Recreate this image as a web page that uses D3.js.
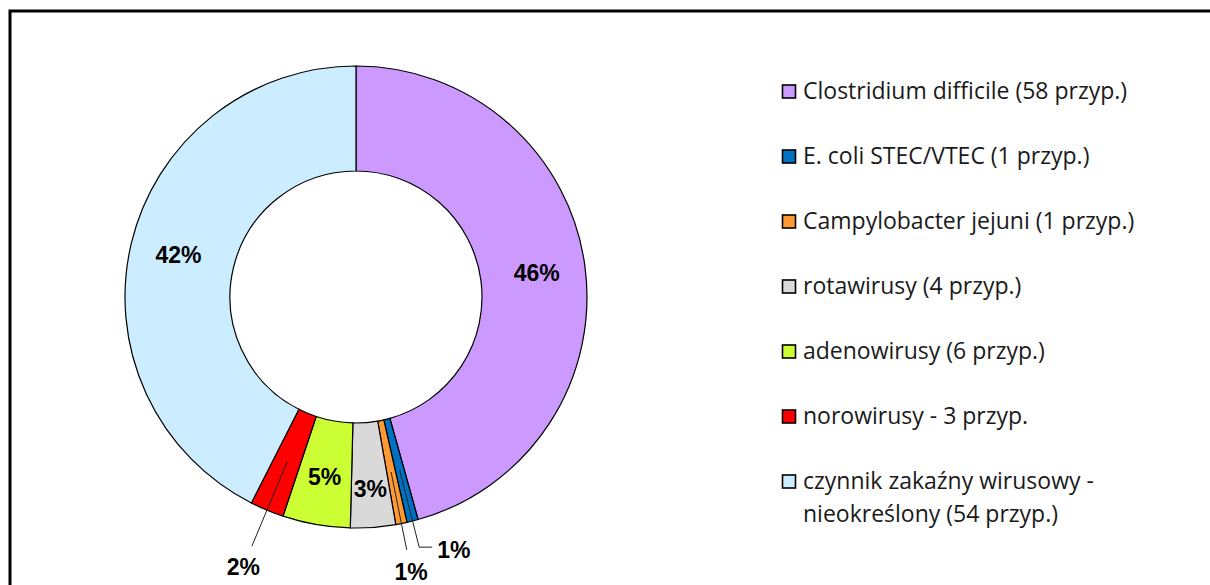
<!DOCTYPE html>
<html>
<head>
<meta charset="utf-8">
<script src="https://cdn.jsdelivr.net/npm/d3@7"></script>
<style>
  body { margin: 0; background: #fff; }
  svg { display: block; }
</style>
</head>
<body>
<div id="chart"></div>
<script>
var categories = [
    'Clostridium difficile (58 przyp.)',
    'E. coli STEC/VTEC (1 przyp.)',
    'Campylobacter jejuni (1 przyp.)',
    'rotawirusy (4 przyp.)',
    'adenowirusy (6 przyp.)',
    'norowirusy - 3 przyp.',
    'czynnik zakaźny wirusowy - nieokreślony (54 przyp.)'
];
var values = [58, 1, 1, 4, 6, 3, 54];
var percentLabels = ['46%', '1%', '1%', '3%', '5%', '2%', '42%'];
var colors = ['#CC99FF', '#0070C0', '#FF9933', '#D9D9D9', '#CCFF33', '#FF0000', '#CCECFF'];

var width = 1210, height = 585;
var cx = 356, cy = 297;
var outerR = 231, innerR = 126;

var svg = d3.select('#chart').append('svg')
    .attr('width', width)
    .attr('height', height);

// frame (only top and left edges visible)
svg.append('path')
    .attr('d', 'M10,' + height + ' L10,11 L' + width + ',11')
    .attr('fill', 'none')
    .attr('stroke', '#000')
    .attr('stroke-width', 3);

var total = d3.sum(values);
var pie = d3.pie().sort(null).value(function(d) { return d; });
var arcs = pie(values);

var arc = d3.arc().innerRadius(innerR).outerRadius(outerR);

var g = svg.append('g')
    .attr('transform', 'translate(' + cx + ',' + cy + ')');

g.selectAll('path.slice')
    .data(arcs)
    .enter().append('path')
    .attr('class', 'slice')
    .attr('d', arc)
    .attr('fill', function(d, i) { return colors[i]; })
    .attr('stroke', '#000')
    .attr('stroke-width', 1.2);

function polar(r, a) {
    return [r * Math.sin(a), -r * Math.cos(a)];
}

var midR = (innerR + outerR) / 2;

// labels inside the ring
arcs.forEach(function(d, i) {
    var share = d.value / total;
    var a = (d.startAngle + d.endAngle) / 2;
    if (share >= 0.03) {
        var r = share < 0.04 ? midR + 14 : midR + 4;
        var p = polar(r, a);
        g.append('text')
            .attr('x', p[0])
            .attr('y', p[1])
            .attr('dy', '0.36em')
            .attr('text-anchor', 'middle')
            .style('font-family', '"Liberation Sans", Arial, sans-serif')
            .style('font-weight', 'bold')
            .style('font-size', '23px')
            .attr('fill', '#000')
            .text(percentLabels[i]);
    }
});

// small slices get labels outside with leader lines
var outside = arcs.filter(function(d) { return d.value / total < 0.03; });
outside.forEach(function(d, k) {
    var i = d.index;
    var a = (d.startAngle + d.endAngle) / 2;
    var p0 = polar(midR, a);
    var next = outside[k + 1];
    var crowded = next && (next.startAngle - d.endAngle) < 0.05;
    var lineR = next ? 258 : 270;
    var p1 = polar(lineR, a);
    var pts = [p0, p1];
    var lx, ly, anchor;
    if (crowded) {
        var p2 = [p1[0] + 13, p1[1]];
        pts.push(p2);
        lx = p2[0] + 5; ly = p2[1] + 3; anchor = 'start';
    } else {
        var pl = polar(lineR + 22, a);
        lx = pl[0]; ly = pl[1]; anchor = 'middle';
    }
    g.append('path')
        .attr('d', d3.line()(pts))
        .attr('fill', 'none')
        .attr('stroke', '#222')
        .attr('stroke-width', 1);
    g.append('text')
        .attr('x', lx)
        .attr('y', ly)
        .attr('dy', '0.36em')
        .attr('text-anchor', anchor)
        .style('font-family', '"Liberation Sans", Arial, sans-serif')
        .style('font-weight', 'bold')
        .style('font-size', '23px')
        .attr('fill', '#000')
        .text(percentLabels[i]);
});

// legend
var legend = svg.append('g').attr('transform', 'translate(782,0)');
var rowY = d3.scaleLinear().domain([0, 1]).range([99, 164]);

categories.forEach(function(c, i) {
    var y = rowY(i);
    legend.append('rect')
        .attr('x', 0.5)
        .attr('y', y - 14)
        .attr('width', 13)
        .attr('height', 13)
        .attr('fill', colors[i])
        .attr('stroke', '#000')
        .attr('stroke-width', 1.6);
    var lines = c === categories[6]
        ? ['czynnik zakaźny wirusowy -', 'nieokreślony (54 przyp.)']
        : [c];
    var t = legend.append('text')
        .attr('x', 21)
        .attr('y', y)
        .style('font-family', '"Open Sans", Lato, sans-serif')
        .style('font-size', '23px')
        .attr('fill', '#1a1a1a');
    lines.forEach(function(s, j) {
        t.append('tspan')
            .attr('x', 21)
            .attr('y', y + j * 33)
            .text(s);
    });
});
</script>
</body>
</html>
